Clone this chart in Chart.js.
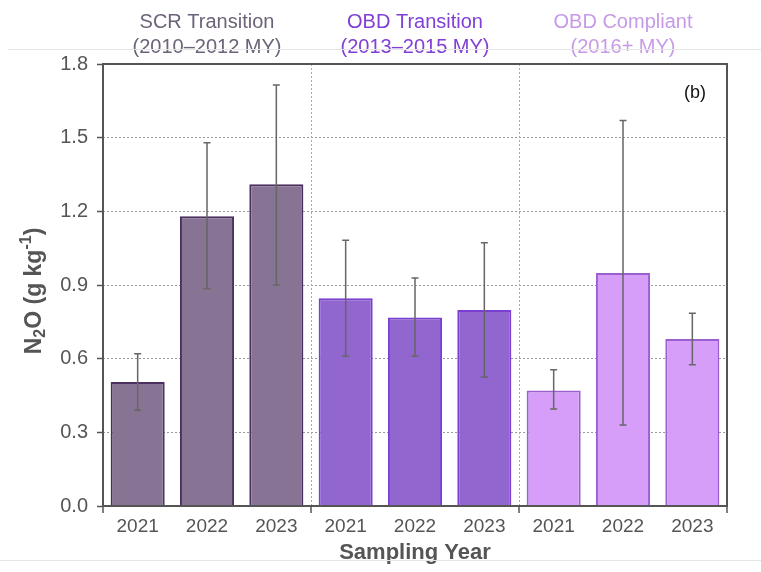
<!DOCTYPE html>
<html><head><meta charset="utf-8">
<script src="https://cdn.jsdelivr.net/npm/chart.js@4.4.1/dist/chart.umd.min.js"></script>
<style>html,body{margin:0;padding:0;background:#fff}#wrap{width:761px;height:572px;position:relative}</style>
</head><body><div id="wrap"><canvas id="c" width="761" height="572"></canvas></div>
<script>
const categories = ['2021','2022','2023','2021','2022','2023','2021','2022','2023'];
const groupNames = ['SCR Transition','OBD Transition','OBD Compliant'];
const groupYears = ['(2010–2012 MY)','(2013–2015 MY)','(2016+ MY)'];
const values = [0.505,1.18,1.31,0.846,0.768,0.798,0.47,0.949,0.68];
const errLow = [0.39,0.885,0.90,0.61,0.61,0.525,0.395,0.33,0.575];
const errHigh = [0.62,1.479,1.714,1.082,0.928,1.072,0.555,1.57,0.785];
const yTicks = [0,0.3,0.6,0.9,1.2,1.5,1.8];

const groupFill = ['#877494','#9166ce','#d69ef9'];
const groupBorder = ['#4b2f5f','#7a3fd2','#9c5fd0'];
const groupText = ['#6c6378','#8040d6','#c79ae8'];
const FONT = '"Liberation Sans", Arial, sans-serif';

const fills = categories.map((_, i) => groupFill[Math.floor(i/3)]);
const borders = categories.map((_, i) => groupBorder[Math.floor(i/3)]);

// y-axis title pieces: [text, kind] (kind: n normal, sub, sup)
const yTitleParts = [['N','n'],['2','sub'],['O (g kg','n'],['-1','sup'],[')','n']];

const extras = {
  id: 'extras',
  beforeDatasetsDraw(chart) {
    const {ctx, chartArea: a, scales: {x}} = chart;
    ctx.save();
    ctx.strokeStyle = '#aaa';
    ctx.lineWidth = 1;
    ctx.setLineDash([2, 2]);
    for (let g = 1; g < 3; g++) {
      const px = Math.round((x.getPixelForValue(g*3-1) + x.getPixelForValue(g*3)) / 2) + 0.5;
      ctx.beginPath(); ctx.moveTo(px, a.top); ctx.lineTo(px, a.bottom); ctx.stroke();
    }
    ctx.restore();
  },
  afterDatasetsDraw(chart) {
    const {ctx, chartArea: a, scales: {x, y}} = chart;
    ctx.save();
    // error bars
    ctx.strokeStyle = '#666';
    ctx.lineWidth = 1.5;
    values.forEach((v, i) => {
      const px = x.getPixelForValue(i);
      const yl = y.getPixelForValue(errLow[i]);
      const yh = y.getPixelForValue(errHigh[i]);
      ctx.beginPath();
      ctx.moveTo(px, yl); ctx.lineTo(px, yh);
      ctx.moveTo(px - 3.5, yl); ctx.lineTo(px + 3.5, yl);
      ctx.moveTo(px - 3.5, yh); ctx.lineTo(px + 3.5, yh);
      ctx.stroke();
    });
    // frame
    ctx.strokeStyle = '#555';
    ctx.lineWidth = 2;
    ctx.strokeRect(a.left, a.top, a.right - a.left, a.bottom - a.top);
    // boundary ticks on x axis
    ctx.lineWidth = 1.5;
    for (let g = 0; g <= 3; g++) {
      let px;
      if (g === 0) px = a.left; else if (g === 3) px = a.right;
      else px = (x.getPixelForValue(g*3-1) + x.getPixelForValue(g*3)) / 2;
      ctx.beginPath(); ctx.moveTo(px, a.bottom); ctx.lineTo(px, a.bottom + 7); ctx.stroke();
    }
    // group labels
    ctx.textAlign = 'center';
    ctx.textBaseline = 'middle';
    ctx.font = '20px ' + FONT;
    for (let g = 0; g < 3; g++) {
      const cx = x.getPixelForValue(g*3+1);
      ctx.fillStyle = groupText[g];
      ctx.fillText(groupNames[g], cx, 22);
      ctx.fillText(groupYears[g], cx, 47);
    }
    // panel label
    ctx.fillStyle = '#111';
    ctx.font = '18px ' + FONT;
    ctx.fillText('(b)', a.right - 32, 93);
    // y-axis title with sub/superscript
    const big = 'bold 23px ' + FONT, small = 'bold 16px ' + FONT;
    let total = 0;
    yTitleParts.forEach(([t, k]) => { ctx.font = k === 'n' ? big : small; total += ctx.measureText(t).width; });
    ctx.translate(33, 291);
    ctx.rotate(-Math.PI / 2);
    ctx.textAlign = 'left';
    ctx.textBaseline = 'alphabetic';
    ctx.fillStyle = '#555';
    let cx = -total / 2;
    yTitleParts.forEach(([t, k]) => {
      ctx.font = k === 'n' ? big : small;
      const dy = k === 'sub' ? 12 : (k === 'sup' ? -2 : 8);
      ctx.fillText(t, cx, dy);
      cx += ctx.measureText(t).width;
    });
    ctx.setTransform(1, 0, 0, 1, 0, 0);
    // faint figure lines
    ctx.strokeStyle = '#e6e6e6';
    ctx.lineWidth = 1;
    ctx.beginPath(); ctx.moveTo(8, 49.5); ctx.lineTo(761, 49.5); ctx.stroke();
    ctx.beginPath(); ctx.moveTo(0, 560.5); ctx.lineTo(761, 560.5); ctx.stroke();
    ctx.restore();
  }
};

new Chart(document.getElementById('c'), {
  type: 'bar',
  data: {
    labels: categories,
    datasets: [{
      data: values,
      backgroundColor: fills,
      borderColor: borders,
      borderWidth: 2,
      barPercentage: 0.78,
      categoryPercentage: 1.0
    }]
  },
  options: {
    responsive: false,
    animation: false,
    events: [],
    layout: { padding: { top: 64, right: 34, left: 0, bottom: 0 } },
    plugins: { legend: { display: false }, tooltip: { enabled: false } },
    scales: {
      x: {
        afterFit(s) { s.height = 66; },
        grid: { display: false, drawTicks: false },
        border: { display: false },
        ticks: { color: '#555', font: { family: FONT, size: 19 }, padding: 9, maxRotation: 0, autoSkip: false },
        title: { display: true, text: 'Sampling Year', color: '#555', font: { family: FONT, size: 22, weight: 'bold' }, padding: { top: 0, bottom: 6 } }
      },
      y: {
        min: 0, max: 1.8,
        afterFit(s) { s.width = 103; },
        afterBuildTicks(s) { s.ticks = yTicks.map(v => ({ value: v })); },
        grid: {
          color: c => (c.tick && (c.tick.value === 0 || c.tick.value === 1.8)) ? 'rgba(0,0,0,0)' : '#999',
          lineWidth: 1,
          tickColor: '#555',
          tickLength: 6,
          tickWidth: 1.5,
          tickBorderDash: [],
          drawTicks: true
        },
        border: { display: false, dash: [2, 2] },
        ticks: { color: '#555', font: { family: FONT, size: 20 }, padding: 9, callback: v => Number(v).toFixed(1) },
        title: { display: false }
      }
    }
  },
  plugins: [extras]
});
</script></body></html>
